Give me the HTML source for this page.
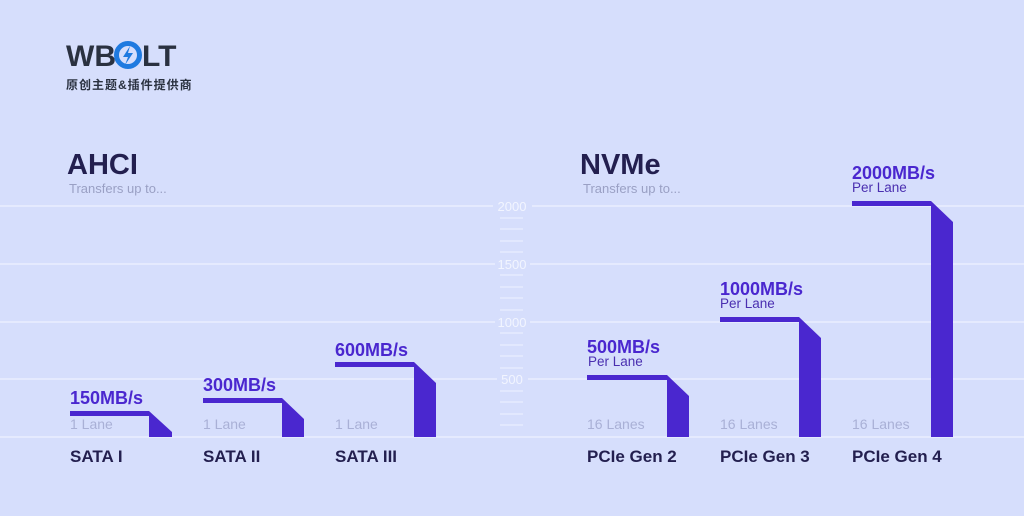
<!DOCTYPE html>
<html><head><meta charset="utf-8"><style>
body{margin:0;background:#d6defc;}
svg{display:block}
text{font-family:"Liberation Sans","Noto Sans CJK SC",sans-serif}
</style></head><body>
<svg width="1024" height="516" viewBox="0 0 1024 516" xmlns="http://www.w3.org/2000/svg">
<rect width="1024" height="516" fill="#d6defc"/>
<!-- logo -->
<text x="66" y="66" font-size="30" font-weight="bold" fill="#2a3140" letter-spacing="0">WB</text>
<circle cx="128" cy="55" r="11.5" fill="none" stroke="#1f7ae0" stroke-width="5"/>
<path d="M130 46 L123 57 L128 57 L125 65 L133 53 L128 53 Z" fill="#1f7ae0"/>
<text x="142" y="66" font-size="30" font-weight="bold" fill="#2a3140" letter-spacing="0">LT</text>
<text x="66" y="89" font-size="12" font-weight="bold" fill="#2a3140" letter-spacing="1">原创主题&amp;插件提供商</text>
<!-- grid -->
<g stroke="#eef2ff" stroke-width="1.3">
<line x1="0" y1="206" x2="493" y2="206"/><line x1="532" y1="206" x2="1024" y2="206"/>
<line x1="0" y1="264" x2="495" y2="264"/><line x1="530" y1="264" x2="1024" y2="264"/>
<line x1="0" y1="322" x2="495" y2="322"/><line x1="530" y1="322" x2="1024" y2="322"/>
<line x1="0" y1="379" x2="497" y2="379"/><line x1="528" y1="379" x2="1024" y2="379"/>
<line x1="0" y1="437" x2="1024" y2="437"/>
</g>
<g stroke="#eef2ff" stroke-width="1">
<line x1="500" y1="218" x2="523" y2="218"/><line x1="500" y1="229" x2="523" y2="229"/><line x1="500" y1="241" x2="523" y2="241"/><line x1="500" y1="252" x2="523" y2="252"/>
<line x1="500" y1="275" x2="523" y2="275"/><line x1="500" y1="287" x2="523" y2="287"/><line x1="500" y1="298" x2="523" y2="298"/><line x1="500" y1="310" x2="523" y2="310"/>
<line x1="500" y1="333" x2="523" y2="333"/><line x1="500" y1="345" x2="523" y2="345"/><line x1="500" y1="356" x2="523" y2="356"/><line x1="500" y1="368" x2="523" y2="368"/>
<line x1="500" y1="391" x2="523" y2="391"/><line x1="500" y1="402" x2="523" y2="402"/><line x1="500" y1="414" x2="523" y2="414"/><line x1="500" y1="425" x2="523" y2="425"/>
</g>
<g fill="#f2f5ff" font-size="13" text-anchor="middle">
<text x="512" y="211">2000</text><text x="512" y="269">1500</text><text x="512" y="327">1000</text><text x="512" y="384">500</text>
</g>
<!-- headings -->
<g fill="#231f4f" font-weight="bold" font-size="29">
<text x="67" y="174">AHCI</text><text x="580" y="174">NVMe</text>
</g>
<g fill="#9aa0c4" font-size="13">
<text x="69" y="193">Transfers up to...</text><text x="583" y="193">Transfers up to...</text>
</g>
<!-- bars -->
<g fill="#4a27cf">
<path d="M70 411H149L172 432V437H149V416H70Z"/>
<path d="M203 398H282L304 419V437H282V403H203Z"/>
<path d="M335 362H414L436 383V437H414V367H335Z"/>
<path d="M587 375H667L689 396V437H667V380H587Z"/>
<path d="M720 317H799L821 338V437H799V322H720Z"/>
<path d="M852 201H931L953 222V437H931V206H852Z"/>
</g>
<g fill="#4a27cf" font-weight="bold" font-size="18">
<text x="70" y="404">150MB/s</text><text x="203" y="391">300MB/s</text><text x="335" y="356">600MB/s</text>
<text x="587" y="353">500MB/s</text><text x="720" y="295">1000MB/s</text><text x="852" y="179">2000MB/s</text>
</g>
<g fill="#4a2fb0" font-size="13.5">
<text x="588" y="366">Per Lane</text><text x="720" y="308">Per Lane</text><text x="852" y="192">Per Lane</text>
</g>
<g fill="#a9b0d6" font-size="14">
<text x="70" y="429">1 Lane</text><text x="203" y="429">1 Lane</text><text x="335" y="429">1 Lane</text>
<text x="587" y="429">16 Lanes</text><text x="720" y="429">16 Lanes</text><text x="852" y="429">16 Lanes</text>
</g>
<g fill="#231f4f" font-weight="bold" font-size="17">
<text x="70" y="462">SATA I</text><text x="203" y="462">SATA II</text><text x="335" y="462">SATA III</text>
<text x="587" y="462">PCIe Gen 2</text><text x="720" y="462">PCIe Gen 3</text><text x="852" y="462">PCIe Gen 4</text>
</g>
</svg>
</body></html>
